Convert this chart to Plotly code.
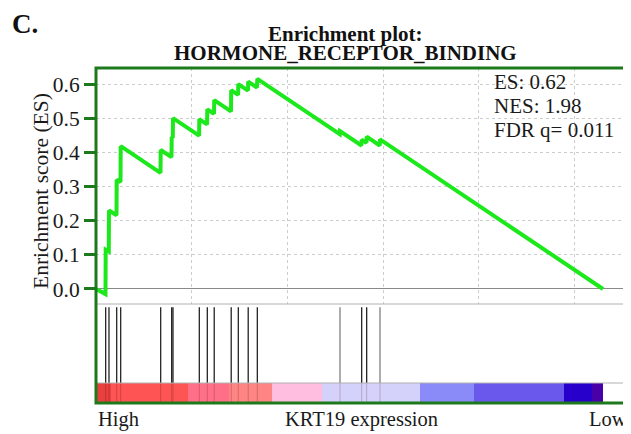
import plotly.graph_objects as go

# ---- data ----
# running enrichment score, (rank, ES) vertices
es_rank = [0, 496, 507, 669, 679, 1071, 1082, 1280, 1291, 3370, 3381, 3945, 3955,
           4013, 4023, 5387, 5397, 5805, 5815, 6166, 6176, 7054, 7064, 7425, 7435,
           7942, 7952, 8412, 8428, 12738, 12749, 13872, 13883, 14134, 14144,
           14829, 14839, 26491]
es_value = [0.0, -0.015, 0.115, 0.110, 0.230, 0.216, 0.320, 0.313, 0.418, 0.340, 0.407,
            0.386, 0.445, 0.443, 0.500, 0.449, 0.497, 0.482, 0.526, 0.513, 0.553,
            0.520, 0.582, 0.568, 0.600, 0.581, 0.607, 0.590, 0.615, 0.453, 0.462,
            0.420, 0.437, 0.428, 0.446, 0.420, 0.438, 0.0]

# gene-set member positions in the ranked list
hits_black = [507, 679, 1082, 1291, 3381, 3955, 4023, 5397, 5815, 6176, 7064,
              7435, 7952, 8428, 13883, 14144]
hits_gray = [12749, 14839]

# ranked-list colour bar (segment edges + colours)
bar_edges = [0, 784, 4807, 6949, 9196, 11809, 16929, 19751, 24453, 25916, 26491]
bar_colors = ["#e8403f", "#ff5454", "#ff7088", "#ff8585", "#ffbde0",
              "#d4d2fa", "#8a8af8", "#6a58ec", "#2800cc", "#4800a8"]

stats = ["ES: 0.62", "NES: 1.98", "FDR q= 0.011"]
y_ticks = [0.0, 0.1, 0.2, 0.3, 0.4, 0.5, 0.6]

FONT = "Liberation Serif"
FRAME = "#1c7a1c"
TXT = "#1a1a1a"
X_MAX = 27850

# page body has an 8px margin, so the figure is 8px smaller and everything
# below is given in page pixels, converted to plot-area (paper) fractions
PL, PR, PT, PB = 96, 629, 68, 403


def px(x):
    return (x - PL) / (PR - PL)


def py(y):
    return (PB - y) / (PB - PT)


def _tick_xy(ranks, y0, y1):
    xs, ys = [], []
    for r in ranks:
        xs += [r, r, None]
        ys += [y0, y1, None]
    return xs, ys


fig = go.Figure()

# ES curve
fig.add_trace(go.Scatter(
    x=es_rank, y=es_value, mode="lines",
    line=dict(color="#1ce81c", width=4),
    xaxis="x", yaxis="y", hoverinfo="skip",
))

# hit ticks
for ranks, col in [(hits_black, "#111111"), (hits_gray, "#777777")]:
    xs, ys = _tick_xy(ranks, 0, 0.96)
    fig.add_trace(go.Scatter(x=xs, y=ys, mode="lines", line=dict(color=col, width=1.2),
                             xaxis="x2", yaxis="y2", hoverinfo="skip"))

# colour bar
mids = [(a + b) / 2 for a, b in zip(bar_edges[:-1], bar_edges[1:])]
widths = [b - a for a, b in zip(bar_edges[:-1], bar_edges[1:])]
fig.add_trace(go.Bar(
    x=mids, y=[1] * len(mids), width=widths,
    marker=dict(color=bar_colors, line=dict(width=0)),
    xaxis="x3", yaxis="y3", hoverinfo="skip",
))
# faint hit lines through the colour bar
xs, ys = _tick_xy(hits_black + hits_gray, 0, 1)
fig.add_trace(go.Scatter(x=xs, y=ys, mode="lines",
                         line=dict(color="rgba(60,0,0,0.22)", width=1),
                         xaxis="x3", yaxis="y3", hoverinfo="skip"))

# ---- axes ----
d_es = [py(304), 1]
d_hit = [py(383), py(304)]
d_bar = [0, py(383)]

x_common = dict(range=[0, X_MAX], showticklabels=False, zeroline=False, ticks="",
                showline=False)
fig.update_layout(
    xaxis=dict(**x_common, anchor="y", showgrid=True, gridcolor="#cccccc",
               griddash="dot", gridwidth=1, dtick=5000, tick0=0),
    xaxis2=dict(**x_common, anchor="y2", matches="x", showgrid=False),
    xaxis3=dict(**x_common, anchor="y3", matches="x", showgrid=False),
    yaxis=dict(domain=d_es, range=[-0.044, 0.647], tickvals=y_ticks,
               ticktext=[f"{v:.1f}" for v in y_ticks],
               ticks="outside", ticklen=11, tickwidth=2.5, tickcolor=FRAME,
               tickfont=dict(family=FONT, size=21.5, color=TXT),
               showgrid=True, gridcolor="#cccccc", griddash="dot", gridwidth=1,
               zeroline=True, zerolinecolor="#8a8a8a", zerolinewidth=1,
               showline=False),
    yaxis2=dict(domain=d_hit, range=[0, 1], showticklabels=False, showgrid=False,
                zeroline=False, ticks=""),
    yaxis3=dict(domain=d_bar, range=[0, 1], showticklabels=False, showgrid=False,
                zeroline=False, ticks=""),
)

# separators + green frame
for yp in [d_es[0], d_hit[0]]:
    fig.add_shape(type="line", xref="paper", yref="paper", x0=0, x1=1, y0=yp, y1=yp,
                  line=dict(color="#b0b0b0", width=1))
fig.add_shape(type="rect", xref="paper", yref="paper", x0=0, x1=1, y0=0, y1=1,
              line=dict(color=FRAME, width=3))

# ---- text ----
for i, s in enumerate(stats):
    fig.add_annotation(xref="paper", yref="paper", x=px(492), y=py(82 + 24 * i),
                       xanchor="left", yanchor="middle", showarrow=False, text=s,
                       font=dict(family=FONT, size=21, color=TXT))
fig.add_annotation(xref="paper", yref="paper", x=px(41), y=py(191),
                   xanchor="center", yanchor="middle", textangle=-90, showarrow=False,
                   text="Enrichment score (ES)",
                   font=dict(family=FONT, size=21.5, color=TXT))
for txt, xp, xa in [("High", px(96), "left"), ("KRT19 expression", px(361.5), "center"),
                    ("Low", px(629), "right")]:
    fig.add_annotation(xref="paper", yref="paper", x=xp, y=py(419),
                       xanchor=xa, yanchor="middle", showarrow=False, text=txt,
                       font=dict(family=FONT, size=20.5, color=TXT))
fig.add_annotation(xref="paper", yref="paper", x=px(10), y=py(24),
                   xanchor="left", yanchor="middle", showarrow=False, text="<b>C.</b>",
                   font=dict(family=FONT, size=27, color="#111111"))
for txt, yc in [("Enrichment plot:", 34.5), ("HORMONE_RECEPTOR_BINDING", 53.5)]:
    fig.add_annotation(xref="paper", yref="paper", x=px(345), y=py(yc),
                       xanchor="center", yanchor="middle", showarrow=False,
                       text=f"<b>{txt}</b>",
                       font=dict(family=FONT, size=21, color="#111111"))

fig.update_layout(
    width=623, height=426,
    margin=dict(l=PL - 8, r=631 - PR, t=PT - 8, b=434 - PB),
    paper_bgcolor="white", plot_bgcolor="white",
    showlegend=False, bargap=0,
)

fig.write_html("out.html")
